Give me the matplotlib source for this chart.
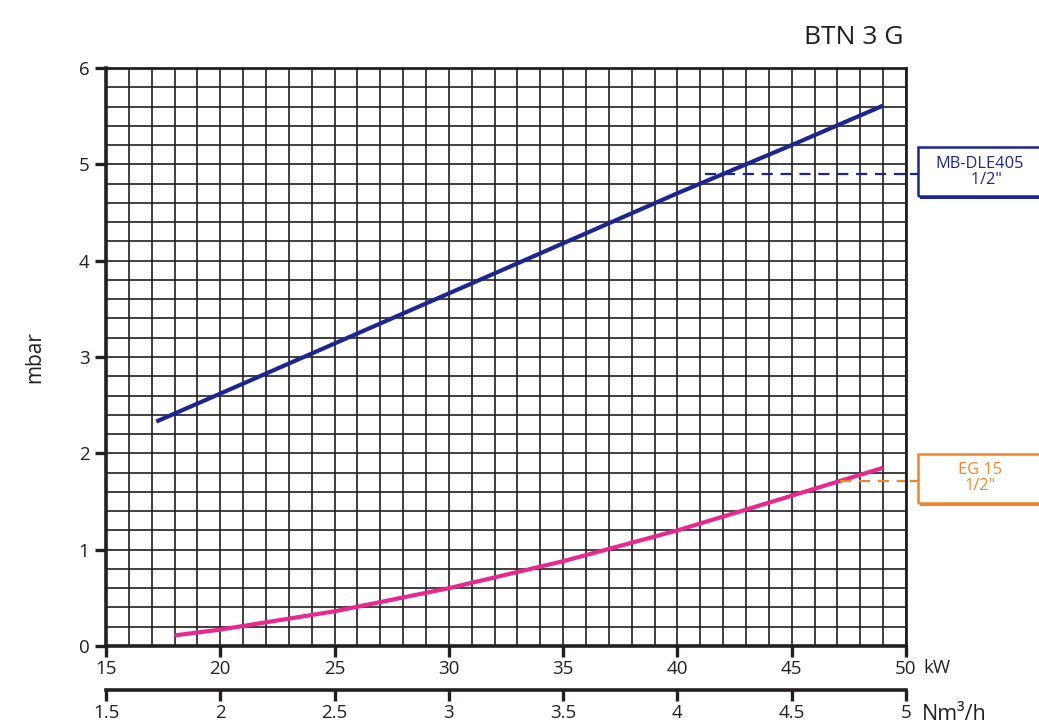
import numpy as np
import matplotlib
matplotlib.use("Agg")
import matplotlib.pyplot as plt
from matplotlib.patches import Rectangle

plt.rcParams['font.family'] = ['Open Sans', 'DejaVu Sans']

# data
blue_kw = [17.2, 20, 25, 30, 35, 40, 45, 49]
blue_mbar = [2.33, 2.62, 3.14, 3.66, 4.18, 4.70, 5.20, 5.61]
pink_kw = [18, 20, 25, 30, 35, 40, 45, 49]
pink_mbar = [0.11, 0.17, 0.36, 0.60, 0.88, 1.20, 1.56, 1.85]
blue_ref = 4.90
orange_ref = 1.71
blue_ref_start = 41.2
orange_ref_start = 47.1
x_ticks = [15, 20, 25, 30, 35, 40, 45, 50]
y_ticks = [0, 1, 2, 3, 4, 5, 6]
flow_ticks = [1.5, 2, 2.5, 3, 3.5, 4, 4.5, 5]
flow_labels = ['1.5', '2', '2.5', '3', '3.5', '4', '4.5', '5']

BLUE = '#1c2591'
PINK = '#e8288f'
ORANGE = '#f0852a'
DARK = '#231f20'

W, H = 1039, 723
fig = plt.figure(figsize=(W/100, H/100), dpi=100)
L, R, T, B = 106, 906, 68, 646
ax = fig.add_axes([L/W, 1-B/H, (R-L)/W, (B-T)/H])
ax.set_xlim(15, 50)
ax.set_ylim(0, 6)

# grid
for xv in np.arange(15, 50.01, 1):
    ax.axvline(xv, color=DARK, lw=1.2, zorder=1)
for yv in np.arange(0, 6.01, 0.2):
    ax.axhline(yv, color=DARK, lw=1.2, zorder=1)

ax.plot(blue_kw, blue_mbar, color=BLUE, lw=3, solid_capstyle='butt', zorder=3)
ax.plot(pink_kw, pink_mbar, color=PINK, lw=3, solid_capstyle='butt', zorder=3)

# reference dashed lines
ax.plot([blue_ref_start, 50], [blue_ref, blue_ref], color=BLUE, lw=1.6,
        ls=(0, (5, 3.5)), zorder=3, clip_on=False)
ax.plot([orange_ref_start, 50], [orange_ref, orange_ref], color=ORANGE, lw=1.6,
        ls=(0, (5, 3.5)), zorder=3, clip_on=False)
ax.plot([50.2, 50.5], [blue_ref, blue_ref], color=BLUE, lw=1.6, clip_on=False)
ax.plot([50.2, 50.5], [orange_ref, orange_ref], color=ORANGE, lw=1.6, clip_on=False)

for sp in ['left', 'bottom']:
    ax.spines[sp].set_linewidth(2.6)
for sp in ['top', 'right']:
    ax.spines[sp].set_linewidth(2.0)
for sp in ax.spines.values():
    sp.set_color(DARK)
    sp.set_zorder(4)

ax.set_xticks(x_ticks)
ax.set_yticks(y_ticks)
ax.tick_params(axis='both', direction='out', length=8, width=2.4, color=DARK,
               labelsize=13.5, labelcolor=DARK)
ax.tick_params(axis='x', pad=2)
ax.tick_params(axis='y', pad=4)
ax.set_ylabel('mbar', fontsize=15, color=DARK, labelpad=24)

# secondary axis
sec = ax.secondary_xaxis((B-690)/(B-T), functions=(lambda x: x/10, lambda x: x*10))
sec.set_xticks(flow_ticks)
sec.set_xticklabels(flow_labels)
sec.tick_params(direction='out', length=8, width=2.4, color=DARK, labelsize=13.5,
                labelcolor=DARK, pad=2)
sec.spines['bottom'].set_linewidth(2.6)
sec.spines['bottom'].set_color(DARK)

fig.text(923/W, 1-668/H, 'kW', fontsize=13.5, color=DARK, va='center', ha='left')
fig.text(922/W, 1-714/H, 'Nm³/h', fontsize=15.5, color=DARK, va='center', ha='left')
fig.text(854/W, 1-38/H, 'BTN 3 G', fontsize=19, color=DARK, va='center', ha='center')

# legend boxes
def box(y0, y1, color, text):
    x0 = 918
    fig.patches.append(Rectangle((x0/W, 1-y1/H), (W+10-x0)/W, (y1-y0)/H,
                                 transform=fig.transFigure, fill=False,
                                 edgecolor=color, lw=1.8, clip_on=False))
    fig.patches.append(Rectangle(((x0+2)/W, 1-(y1+3)/H), (W+10-x0)/W, 3/H,
                                 transform=fig.transFigure, facecolor=color,
                                 edgecolor='none', clip_on=False))
    fig.text(980/W, 1-(y0+y1)/2/H, text, fontsize=11.8, color=color,
             ha='center', va='center', linespacing=1.0)

box(147, 196, BLUE, 'MB-DLE405\n   1/2"')
box(454, 503, ORANGE, 'EG 15\n1/2"')

fig.savefig('out.png', dpi=100)
